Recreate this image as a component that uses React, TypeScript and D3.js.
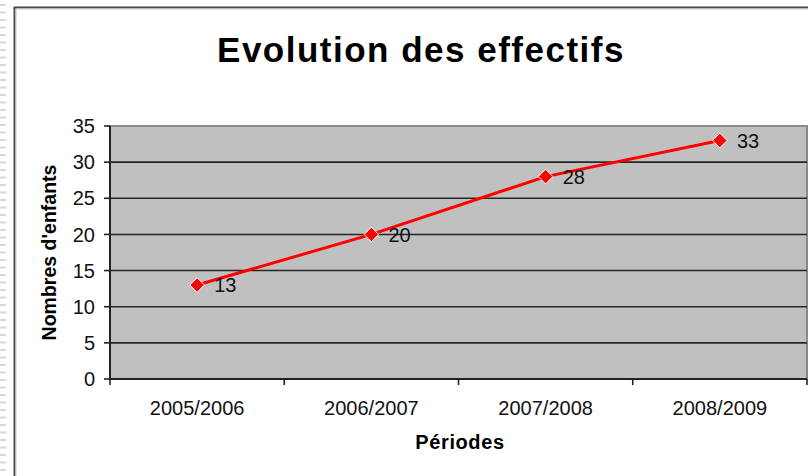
import React from "react";
import * as d3 from "d3";

const categories = ["2005/2006", "2006/2007", "2007/2008", "2008/2009"];
const values = [13, 20, 28, 33];
const yTicks = [0, 5, 10, 15, 20, 25, 30, 35];
const title = "Evolution des effectifs";
const xTitle = "Périodes";
const yTitle = "Nombres d'enfants";

const W = 808;
const H = 476;
const FONT = "'Liberation Sans', Arial, Helvetica, sans-serif";

export default function App() {
  const plot = { left: 110, right: 807, top: 126, bottom: 379 };
  const x = d3
    .scaleBand<string>()
    .domain(categories)
    .range([plot.left, plot.right])
    .paddingInner(0)
    .paddingOuter(0);
  const y = d3.scaleLinear().domain([0, 35]).range([plot.bottom, plot.top]);
  const cx = (c: string) => (x(c) as number) + x.bandwidth() / 2;

  const line = d3
    .line<number>()
    .x((_, i) => cx(categories[i]))
    .y((d) => y(d));

  const diamond = d3.symbol().type(d3.symbolDiamond2).size(135)();

  const boundaries = categories.map((c) => x(c) as number).concat([plot.right]);
  const dashes = d3.range(0, H, 7.5);

  return (
    <svg
      width={W}
      height={H}
      style={{ position: "absolute", left: 0, top: 0, display: "block", background: "#fff" }}
    >
      {/* left dotted strip */}
      {dashes.map((d, i) => (
        <rect key={i} x={0} y={d + 4} width={6} height={2} fill="#d8d8d8" />
      ))}
      {/* chart frame */}
      <rect x={14.5} y={7.5} width={900} height={600} fill="#fff" stroke="#4a4a4a" strokeWidth={2} />
      <rect x={16} y={9} width={900} height={600} fill="none" stroke="#c8c8c8" strokeWidth={1} />

      {/* title */}
      <text
        x={421}
        y={62}
        textAnchor="middle"
        fontFamily={FONT}
        fontWeight="bold"
        fontSize={35}
        letterSpacing={1.5}
        fill="#000"
      >
        {title}
      </text>

      {/* plot area */}
      <rect
        x={plot.left}
        y={plot.top}
        width={plot.right - plot.left}
        height={plot.bottom - plot.top}
        fill="#c0c0c0"
        stroke="#8a8a8a"
        strokeWidth={2}
      />
      {/* gridlines */}
      {yTicks
        .filter((t) => t !== 0 && t !== 35)
        .map((t) => (
          <line
            key={t}
            x1={plot.left}
            x2={plot.right}
            y1={y(t)}
            y2={y(t)}
            stroke="#262626"
            strokeWidth={1.6}
          />
        ))}
      {/* axes */}
      <line x1={plot.left} x2={plot.left} y1={plot.top} y2={plot.bottom} stroke="#222" strokeWidth={2} />
      <line x1={plot.left - 1} x2={plot.right} y1={plot.bottom} y2={plot.bottom} stroke="#222" strokeWidth={2} />

      {/* y ticks */}
      {yTicks.map((t) => (
        <g key={t}>
          <line x1={plot.left - 6} x2={plot.left} y1={y(t)} y2={y(t)} stroke="#222" strokeWidth={1.6} />
          <text
            x={95}
            y={y(t)}
            dy="0.36em"
            textAnchor="end"
            fontFamily={FONT}
            fontSize={20}
            fill="#111"
          >
            {t}
          </text>
        </g>
      ))}

      {/* x ticks */}
      {boundaries.map((b, i) => (
        <line key={i} x1={b} x2={b} y1={plot.bottom} y2={plot.bottom + 6} stroke="#222" strokeWidth={1.6} />
      ))}
      {categories.map((c) => (
        <text
          key={c}
          x={cx(c)}
          y={415}
          textAnchor="middle"
          fontFamily={FONT}
          fontSize={20}
          fill="#111"
        >
          {c}
        </text>
      ))}

      {/* axis titles */}
      <text
        x={460}
        y={449}
        textAnchor="middle"
        fontFamily={FONT}
        fontWeight="bold"
        fontSize={20}
        letterSpacing={0.6}
        fill="#000"
      >
        {xTitle}
      </text>
      <text
        transform={`translate(56,${(plot.top + plot.bottom) / 2}) rotate(-90)`}
        textAnchor="middle"
        fontFamily={FONT}
        fontWeight="bold"
        fontSize={19.5}
        fill="#000"
      >
        {yTitle}
      </text>

      {/* series */}
      <path d={line(values) || ""} fill="none" stroke="#ff0000" strokeWidth={3} />
      {values.map((v, i) => (
        <g key={i}>
          <path
            d={diamond || ""}
            transform={`translate(${cx(categories[i])},${y(v)})`}
            fill="#ff0000"
            stroke="#ffffff"
            strokeWidth={1}
          />
          <text
            x={cx(categories[i]) + 17}
            y={y(v)}
            dy="0.36em"
            fontFamily={FONT}
            fontSize={20}
            fill="#111"
          >
            {v}
          </text>
        </g>
      ))}
    </svg>
  );
}
